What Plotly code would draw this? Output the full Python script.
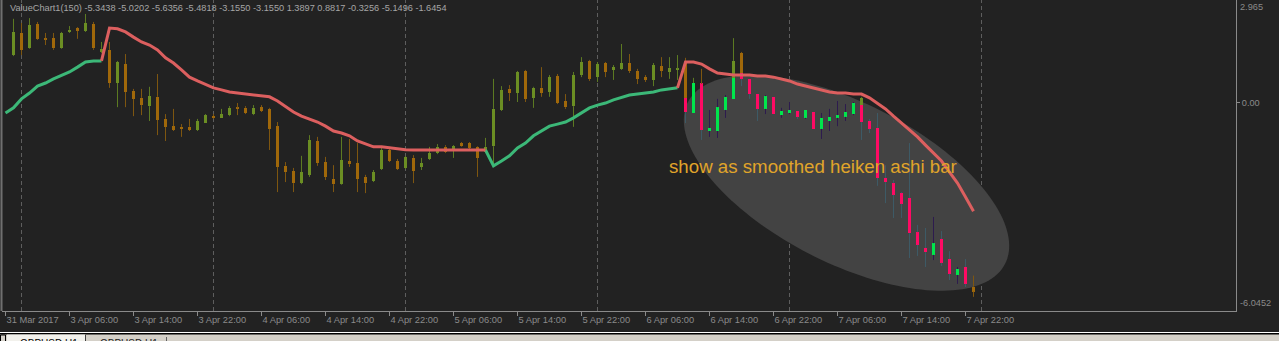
import numpy as np
import pandas as pd
import plotly.graph_objects as go

# ---------------- categories: H1 bars ----------------
bar_times = (list(pd.date_range("2017-03-31 22:00", periods=2, freq="h")) +
             list(pd.date_range("2017-04-03 00:00", "2017-04-07 23:00", freq="h")))
N = len(bar_times)  # 122

# ---------------- ValueChart candles (bars where visible) ----------------
vc_bar = list(range(1, 88)) + [91, 92, 107, 121]
vc_open = [
    1.37, 2.01, 1.57, 2.27, 1.85, 1.86, 1.57, 2.04, 2.15, 2.07,            # 1-10
    2.27, 1.46, 1.52, 0.56, 1.11, 0.33, 0.13, -0.11, 0.16, -0.48,          # 11-20
    -0.69, -0.71, -0.71, -0.80, -0.60, -0.40, -0.45, -0.37, -0.16, -0.16,  # 21-30
    -0.34, -0.14, -0.19, -0.69, -1.84, -1.99, -2.34, -2.10, -1.12, -1.73,  # 31-40
    -2.22, -2.37, -1.70, -1.76, -2.16, -2.28, -1.93, -1.38, -1.70, -1.90,  # 41-50
    -1.61, -1.87, -1.64, -1.47, -1.29, -1.38, -1.18, -1.18, -1.29, -1.44,  # 51-60
    -1.27, -0.22, 0.39, 0.27, 0.91, 0.13, 0.42, 0.30, 0.76, 0.04,          # 61-70
    -0.11, 0.79, 1.20, 0.73, 1.14, 0.94, 0.97, 1.14, 0.91, 0.73,           # 71-80
    0.65, 1.05, 0.88, 0.94, 1.17, 0.21, 0.53,                              # 81-87
    0.71, 1.43, -0.08, -5.3438]                                            # 91, 92, 107, 121
vc_high = [
    2.42, 2.30, 2.44, 2.33, 2.01, 2.01, 2.04, 2.21, 2.18, 2.56,
    2.33, 1.75, 1.75, 1.20, 1.40, 0.39, 0.39, 0.45, 0.82, -0.34,
    -0.19, -0.63, -0.48, -0.48, -0.34, -0.34, -0.19, -0.11, -0.02, -0.11,
    -0.08, -0.08, -0.16, -0.57, -1.73, -1.90, -1.55, -0.95, -1.00, -1.58,
    -1.82, -1.00, -1.06, -1.18, -2.10, -1.96, -1.29, -1.29, -1.64, -1.55,
    -1.53, -1.61, -1.29, -1.21, -1.24, -1.24, -1.15, -1.15, -1.27, -1.03,
    0.68, 0.47, 0.50, 0.91, 0.94, 0.45, 1.02, 0.79, 0.82, 0.24,
    0.88, 1.31, 1.23, 1.17, 1.17, 1.08, 1.69, 1.40, 0.97, 0.79,
    1.14, 1.31, 1.31, 1.37, 1.29, 0.71, 0.97,
    1.86, 1.46, 0.16, -5.0202]
vc_low = [
    1.34, 1.37, 1.55, 1.81, 1.66, 1.52, 1.55, 2.01, 1.84, 2.04,
    1.52, 1.43, 0.42, -0.14, -0.14, -0.40, -0.37, -0.54, -0.95, -1.12,
    -0.83, -1.00, -0.83, -0.83, -0.60, -0.48, -0.45, -0.40, -0.37, -0.34,
    -0.37, -0.28, -1.38, -2.60, -2.31, -2.60, -2.37, -2.16, -1.84, -2.25,
    -2.60, -2.39, -1.87, -2.60, -2.63, -2.31, -1.96, -1.73, -1.96, -1.93,
    -2.34, -1.96, -1.67, -1.50, -1.47, -1.61, -1.29, -1.38, -2.16, -1.47,
    -1.82, -0.25, 0.04, 0.01, 0.01, -0.16, 0.16, 0.16, -0.05, -0.19,
    -0.71, 0.73, 0.62, 0.59, 0.73, 0.65, 0.94, 0.85, 0.53, 0.59,
    0.47, 0.73, 0.68, 0.65, 0.13, 0.21, 0.07,
    0.71, 0.85, -0.08, -5.6356]
vc_close = [
    2.04, 1.52, 2.24, 1.84, 1.82, 1.57, 2.01, 2.10, 2.07, 2.30,
    1.57, 1.55, 0.56, 1.17, 0.30, 0.10, -0.08, 0.18, -0.51, -0.71,
    -0.80, -0.77, -0.80, -0.54, -0.37, -0.45, -0.34, -0.16, -0.19, -0.31,
    -0.16, -0.25, -0.77, -1.87, -2.02, -2.34, -2.02, -1.09, -1.76, -2.16,
    -2.37, -1.67, -1.79, -2.22, -2.34, -2.02, -1.38, -1.70, -1.93, -1.58,
    -1.99, -1.76, -1.47, -1.29, -1.44, -1.27, -1.27, -1.32, -1.61, -1.29,
    -0.19, 0.36, 0.27, 0.88, 0.10, 0.42, 0.27, 0.73, -0.02, -0.14,
    0.79, 1.17, 0.68, 1.11, 0.88, 1.02, 1.14, 0.91, 0.68, 0.65,
    1.08, 0.91, 1.00, 0.97, 0.13, 0.56, 0.07,
    1.20, 0.85, 0.13, -5.4818]

# ---------------- smoothed Heiken Ashi bars ----------------
ha_bar = list(range(85, 121))
ha_open = [0.13, -0.31, 0.56, -0.83, -0.83, -0.22, 0.10, 0.85, 0.68, 0.24,
           -0.19, 0.16, -0.37, -0.31, -0.25, -0.45, -0.28, -0.77, -0.54, -0.45,
           -0.42, -0.34, -0.08, -0.54, -0.74, -2.19, -2.34, -2.63, -2.77, -3.76,
           -4.22, -4.42, -3.96, -4.54, -5.00, -4.77]
ha_high = [0.13, 0.56, 0.56, -0.22, 0.10, 0.21, 0.71, 0.85, 0.68, 0.24,
           0.21, 0.16, -0.16, 0.01, -0.25, -0.22, -0.28, -0.31, -0.19, 0.04,
           -0.05, 0.01, -0.08, -0.48, -0.31, -1.82, -2.25, -2.60, -1.18, -3.55,
           -3.64, -3.32, -3.73, -4.31, -4.77, -4.54]
ha_low = [-0.60, -0.31, -1.09, -1.00, -1.03, -0.45, 0.10, 0.47, 0.10, -0.54,
          -0.34, -0.34, -0.45, -0.34, -0.48, -0.48, -0.77, -1.06, -0.83, -0.69,
          -0.54, -0.37, -1.09, -0.89, -2.42, -2.92, -3.35, -3.35, -4.51, -4.45,
          -4.77, -4.57, -4.74, -5.15, -5.26, -5.35]
ha_close = [-0.28, 0.56, -0.80, -0.74, -0.14, 0.16, 0.71, 0.68, 0.24, -0.19,
            0.18, -0.34, -0.25, -0.22, -0.42, -0.22, -0.77, -0.45, -0.42, -0.37,
            -0.28, -0.02, -0.57, -0.77, -2.19, -2.31, -2.68, -2.94, -3.79, -4.13,
            -4.34, -4.08, -4.65, -4.97, -4.83, -5.26]

# ---------------- smoothed trend line ----------------
trend_line = [
    -0.31, -0.16, 0.10, 0.27, 0.47, 0.56, 0.68, 0.79, 0.88, 1.02,
    1.17, 1.20, 1.20, 2.15, 2.13, 2.04, 1.89, 1.75, 1.66, 1.52,
    1.29, 1.14, 0.94, 0.73, 0.62, 0.53, 0.42, 0.36, 0.30, 0.27,
    0.24, 0.21, 0.18, 0.16, 0.04, -0.11, -0.28, -0.40, -0.48, -0.57,
    -0.69, -0.83, -0.89, -0.97, -1.12, -1.21, -1.29, -1.29, -1.32, -1.35,
    -1.37, -1.38, -1.38, -1.38, -1.38, -1.38, -1.38, -1.38, -1.38, -1.38,
    -1.38, -1.84, -1.70, -1.55, -1.32, -1.18, -0.97, -0.83, -0.69, -0.63,
    -0.57, -0.45, -0.31, -0.16, -0.08, -0.02, 0.07, 0.13, 0.21, 0.24,
    0.27, 0.30, 0.36, 0.39, 0.42, 1.17, 1.17, 1.11, 0.97, 0.85,
    0.82, 0.79, 0.79, 0.79, 0.76, 0.76, 0.73, 0.68, 0.62, 0.53,
    0.47, 0.42, 0.36, 0.30, 0.27, 0.27, 0.24, 0.24, 0.13, -0.02,
    -0.19, -0.40, -0.60, -0.80, -1.00, -1.24, -1.47, -1.70, -2.02, -2.34,
    -2.74, -3.155]
trend_dir = [
    1, 1, 1, 1, 1, 1, 1, 1, 1, 1, 1, 1, 1,
    -1, -1, -1, -1, -1, -1, -1, -1, -1, -1, -1, -1, -1, -1, -1, -1,
    -1, -1, -1, -1, -1, -1, -1, -1, -1, -1, -1, -1, -1, -1, -1, -1,
    -1, -1, -1, -1, -1, -1, -1, -1, -1, -1, -1, -1, -1, -1, -1, -1,
    1, 1, 1, 1, 1, 1, 1, 1, 1, 1, 1, 1, 1, 1, 1, 1, 1, 1, 1, 1, 1, 1, 1, 1,
    -1, -1, -1, -1, -1, -1, -1, -1, -1, -1, -1, -1, -1, -1, -1, -1, -1, -1,
    -1, -1, -1, -1, -1, -1, -1, -1, -1, -1, -1, -1, -1, -1, -1, -1, -1, -1, -1]

header_text = ("ValueChart1(150) -5.3438 -5.0202 -5.6356 -5.4818 -3.1550 -3.1550 "
               "1.3897 0.8817 -0.3256 -5.1496 -1.6454")
y_top, y_bottom = 2.965, -6.0452

assert len(vc_bar) == len(vc_open) == len(vc_high) == len(vc_low) == len(vc_close)
assert len(ha_bar) == len(ha_open) == len(ha_high) == len(ha_low) == len(ha_close)
assert len(trend_line) == N and len(trend_dir) == N

# ---------------- geometry ----------------
W, H = 1279, 341
ML, MR, MT, MB = 2, 43, 0, 30
PW, PH = W - ML - MR, H - MT - MB
PX_PER_BAR = 8
X0 = -0.4375
X1 = X0 + PW / PX_PER_BAR

BG = "#222222"
AXC = "#8a8a8a"
FONT = "Liberation Sans"


def px_to_x(px):
    return X0 + (px - ML) / PX_PER_BAR


def py_to_y(py):
    return y_top - (py - MT) * (y_top - y_bottom) / PH


def pxp(px):
    return (px - ML) / PW


def pyp(py):
    return (MT + PH - py) / PH


fig = go.Figure()


def add_candles(bars, o, h, l, c, up_body, dn_body, up_wick, dn_wick, width):
    for up in (True, False):
        wx, wy = [], []
        bx, bbase, bh = [], [], []
        for b, oo, hh, ll, cc in zip(bars, o, h, l, c):
            if (cc >= oo) != up:
                continue
            top, bot = max(oo, cc), min(oo, cc)
            if hh > top:
                wx += [b, b, None]
                wy += [top, hh, None]
            if ll < bot:
                wx += [b, b, None]
                wy += [ll, bot, None]
            hgt = max(top - bot, 0.03)
            bx.append(b)
            bbase.append(bot)
            bh.append(hgt)
        fig.add_trace(go.Scatter(x=wx, y=wy, mode="lines",
                                 line=dict(color=up_wick if up else dn_wick, width=1),
                                 hoverinfo="skip", showlegend=False))
        fig.add_trace(go.Bar(x=bx, y=bh, base=bbase, width=width,
                             marker=dict(color=up_body if up else dn_body, line=dict(width=0)),
                             hoverinfo="skip", showlegend=False))


add_candles(vc_bar, vc_open, vc_high, vc_low, vc_close,
            "#6B8E23", "#A0680A", "#5C7A22", "#7E5610", 0.375)
add_candles(ha_bar, ha_open, ha_high, ha_low, ha_close,
            "#00E64C", "#FF0A64", "#2D1B4E", "#3D5A66", 0.375)

# trend line coloured by direction
for d, col in ((1, "#3CB878"), (-1, "#DC5F5F")):
    xs, ys = [], []
    i = 1
    while i < N:
        if trend_dir[i] == d:
            j = i
            seg_x, seg_y = [i - 1], [trend_line[i - 1]]
            while j < N and trend_dir[j] == d:
                seg_x.append(j)
                seg_y.append(trend_line[j])
                j += 1
            xs += seg_x + [None]
            ys += seg_y + [None]
            i = j
        else:
            i += 1
    fig.add_trace(go.Scatter(x=xs, y=ys, mode="lines",
                             line=dict(color=col, width=3),
                             hoverinfo="skip", showlegend=False))

# ---------------- shapes ----------------
shapes = []
# highlight ellipse (markup)
cx, cy, ea, eb, th = 846.5, 183, 178, 80, np.deg2rad(27)
t = np.linspace(0, 2 * np.pi, 160)
ex = cx + ea * np.cos(t) * np.cos(th) - eb * np.sin(t) * np.sin(th)
ey = cy + ea * np.cos(t) * np.sin(th) + eb * np.sin(t) * np.cos(th)
path = "M " + " L ".join(f"{px_to_x(a):.4f},{py_to_y(b):.4f}" for a, b in zip(ex, ey)) + " Z"
shapes.append(dict(type="path", path=path, xref="x", yref="y",
                   fillcolor="#434343", line=dict(width=0), layer="below"))

# day separators (midnight)
one_h = pd.Timedelta(hours=1)
for i in range(1, N + 1):
    if (bar_times[i - 1] + one_h).hour == 0:
        xs = i
        shapes.append(dict(type="line", xref="x", yref="paper", x0=xs, x1=xs, y0=0, y1=1,
                           line=dict(color="#5e5e5e", width=1, dash="4px,3px"), layer="below"))

# left border
shapes.append(dict(type="line", xref="paper", yref="paper", x0=pxp(1.5), x1=pxp(1.5),
                   y0=0, y1=1, line=dict(color="#707070", width=2)))

# bottom terminal strip / tabs
shapes += [
    dict(type="rect", xref="paper", yref="paper", x0=pxp(-5), x1=pxp(W + 5),
         y0=pyp(350), y1=pyp(332), fillcolor="#d4d0c8", line=dict(width=0), layer="above"),
    dict(type="rect", xref="paper", yref="paper", x0=pxp(-5), x1=pxp(W + 5),
         y0=pyp(333), y1=pyp(332), fillcolor="#ffffff", line=dict(width=0), layer="above"),
    dict(type="rect", xref="paper", yref="paper", x0=pxp(-5), x1=pxp(W + 5),
         y0=pyp(334.5), y1=pyp(333), fillcolor="#000000", line=dict(width=0), layer="above"),
    dict(type="rect", xref="paper", yref="paper", x0=pxp(0.5), x1=pxp(5.5),
         y0=pyp(350), y1=pyp(335), fillcolor="#d4d0c8", line=dict(color="#000000", width=1), layer="above"),
    dict(type="rect", xref="paper", yref="paper", x0=pxp(7), x1=pxp(85),
         y0=pyp(350), y1=pyp(334.5), fillcolor="#f2f1ec", line=dict(width=0), layer="above"),
    dict(type="line", xref="paper", yref="paper", x0=pxp(85.5), x1=pxp(85.5),
         y0=pyp(350), y1=pyp(335), line=dict(color="#404040", width=1), layer="above"),
    dict(type="line", xref="paper", yref="paper", x0=pxp(166.5), x1=pxp(166.5),
         y0=pyp(350), y1=pyp(337), line=dict(color="#606060", width=1), layer="above"),
]

# ---------------- annotations ----------------
ann = [
    dict(text=header_text, xref="paper", yref="paper", x=pxp(8), y=pyp(1), xanchor="left",
         yanchor="top", showarrow=False, font=dict(family=FONT, size=9.2, color="#a6a6a6")),
    dict(text="show as smoothed heiken ashi bar", xref="paper", yref="paper", x=pxp(667),
         y=pyp(166), xanchor="left", yanchor="middle", showarrow=False,
         font=dict(family=FONT, size=18.7, color="#E0A52A")),
    dict(text=f"{y_top:.3f}", xref="paper", yref="paper", x=1, y=1, xanchor="left", yanchor="top",
         xshift=2, showarrow=False, font=dict(family=FONT, size=9.2, color=AXC)),
    dict(text=f"{y_bottom:.4f}", xref="paper", yref="paper", x=1, y=0, xanchor="left",
         yanchor="bottom", xshift=2, yshift=1, showarrow=False,
         font=dict(family=FONT, size=9.2, color=AXC)),
    dict(text="GBPUSD,H1", xref="paper", yref="paper", x=pxp(18), y=pyp(336), xanchor="left",
         yanchor="top", showarrow=False, font=dict(family=FONT, size=10, color="#000000")),
    dict(text="GBPUSD,H1", xref="paper", yref="paper", x=pxp(98), y=pyp(336), xanchor="left",
         yanchor="top", showarrow=False, font=dict(family=FONT, size=10, color="#202020")),
]

# ---------------- axes ----------------
tick_idx = list(range(0, N, 8))
tick_txt = []
for k in tick_idx:
    d = bar_times[k]
    tick_txt.append(f"{d.day} {d:%b} {d:%Y}" if k == 0 else f"{d.day} {d:%b} {d:%H:%M}")

fig.update_layout(
    width=W, height=H,
    margin=dict(l=ML, r=MR, t=MT, b=MB, autoexpand=False),
    paper_bgcolor=BG, plot_bgcolor=BG,
    barmode="overlay", bargap=0,
    showlegend=False,
    shapes=shapes, annotations=ann,
    xaxis=dict(range=[X0, X1], tickmode="array", tickvals=tick_idx, ticktext=tick_txt,
               ticks="outside", ticklen=4, tickcolor=AXC, tickwidth=1,
               ticklabelposition="outside right",
               showline=True, linecolor=AXC, linewidth=1, showgrid=False, zeroline=False,
               tickfont=dict(family=FONT, size=9.3, color=AXC), fixedrange=True),
    yaxis=dict(range=[y_bottom, y_top], side="right", tickmode="array", tickvals=[0],
               ticktext=["0.00"], ticks="outside", ticklen=3, tickcolor=AXC,
               showline=True, linecolor=AXC, linewidth=1, showgrid=False, zeroline=False,
               tickfont=dict(family=FONT, size=9.2, color=AXC), fixedrange=True),
)

fig.write_html("out.html", config={"displayModeBar": False})
